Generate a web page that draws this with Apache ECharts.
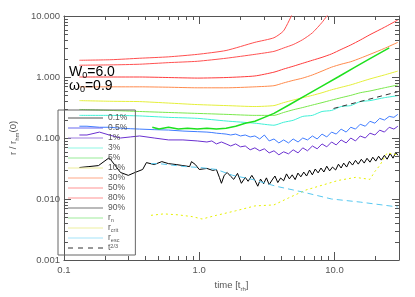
<!DOCTYPE html>
<html><head><meta charset="utf-8">
<script src="https://cdn.jsdelivr.net/npm/echarts@6/dist/echarts.min.js"></script>
<style>html,body{margin:0;padding:0;background:#fff}#c{width:415px;height:297px}</style>
</head><body><div id="c"></div>
<script>
// ---- data (times in t_rh, radii in r_hm(0)) ----
const tSmooth = [0.130,0.223,0.363,0.593,0.968,1.58,2.58,3.57,4.21,4.95,5.83,6.87,8.09,9.52,11.2,13.2,15.5,18.3,23.4,29.4];
const r90 = [1.88,1.92,2.03,2.14,2.35,2.72,3.7,4.4,5.73,11.6,null,null,null,null,null,null,null,null,null,null];
const r80 = [1.56,1.58,1.62,1.72,1.81,2.03,2.35,2.63,2.99,3.4,4.1,5.3,7.85,12.7,null,null,null,null,null,null];
const r50 = [1.0,1.0,1.0,0.98,0.96,0.98,1.04,1.2,1.35,1.5,1.68,1.88,2.1,2.39,2.83,3.35,4.03,4.94,6.53,8.6];
const r30 = [0.69,0.69,0.69,0.68,0.665,0.665,0.69,0.72,0.80,0.88,0.96,1.08,1.25,1.45,1.62,1.78,2.03,2.35,2.94,3.7];
const r10 = [0.41,0.40,0.395,0.374,0.353,0.34,0.328,0.34,0.38,0.418,0.458,0.50,0.552,0.617,0.678,0.743,0.83,0.93,1.08,1.25];
const r5  = [0.294,0.283,0.272,0.262,0.253,0.244,0.235,0.235,0.262,0.29,0.316,0.347,0.38,0.418,0.458,0.50,0.552,0.59,0.665,0.74];
const r3  = [0.235,0.235,0.23,0.218,0.21,0.19,0.175,0.162,0.181,0.195,0.226,0.235,0.272,0.283,0.328,0.34,0.395,0.41,0.458,0.494];

const tNoisy = [0.130,0.148,0.183,0.216,0.262,0.309,0.363,0.465,0.593,0.758,0.968,1.14,1.24,1.34,1.46,1.58,1.71,1.86,2.02,2.19,2.38,2.58,2.80,3.03,3.29,3.57,3.88,4.21,4.57,4.95,5.38,5.83,6.32,6.87,7.45,8.09,8.77,9.52,10.3,11.2,12.2,13.2,14.3,15.5,16.9,18.3,19.9,21.6,23.4,25.4,27.5,29.4];
const r1  = [0.156,0.156,0.150,0.150,0.145,0.142,0.140,0.137,0.135,0.130,0.127,0.125,0.123,0.120,0.118,0.116,0.112,0.116,0.108,0.112,0.104,0.108,0.0964,0.112,0.0895,0.0964,0.083,0.093,0.083,0.0964,0.086,0.100,0.093,0.108,0.0964,0.116,0.104,0.125,0.116,0.140,0.125,0.150,0.140,0.168,0.156,0.188,0.175,0.210,0.197,0.226,0.218,0.244];
const r05 = [0.112,0.112,0.125,0.112,0.100,0.104,0.108,0.100,0.093,0.093,0.0895,0.086,0.0895,0.080,0.086,0.080,0.074,0.080,0.0716,0.074,0.064,0.069,0.0617,0.0665,0.057,0.0617,0.053,0.0594,0.055,0.064,0.057,0.069,0.0617,0.074,0.0665,0.080,0.0716,0.086,0.077,0.093,0.083,0.100,0.0895,0.108,0.100,0.120,0.112,0.1346,0.125,0.150,0.140,0.156];

const tBlack = [0.130,0.153,0.180,0.216,0.262,0.299,0.335,0.382,0.407,0.465,0.529,0.593,0.676,0.758,0.849,0.877,0.937,1.00,1.14,1.26,1.34,1.41,1.46,1.53,1.61,1.71,1.80,1.92,2.05,2.19,2.30,2.45,
  2.58,2.71,2.84,2.99,3.14,3.29,3.46,3.63,3.81,4.00,4.21,4.42,4.64,4.87,5.12,5.37,5.64,5.93,6.22,6.54,6.86,7.21,7.57,7.95,8.35,8.77,9.21,9.67,10.2,10.7,11.2,11.7,12.3,12.9,13.6,14.3,15.0,15.8,16.6,17.4,18.3,19.2,20.2,21.2,22.2,23.4,24.5,25.8,27.1,28.4,29.4];
const r01 = [0.0328,0.034,0.0353,0.0475,0.0272,0.0244,0.0272,0.0305,0.0395,0.0367,0.041,0.038,0.0367,0.0353,0.034,0.041,0.0367,0.0305,0.0317,0.0294,0.0305,0.0226,0.0181,0.0244,0.0272,0.0235,0.021,0.0263,0.0181,0.0226,0.0195,0.0244,
  0.0202,0.0162,0.0212,0.0178,0.0222,0.0172,0.0205,0.0238,0.0186,0.0221,0.0199,0.0258,0.0214,0.0249,0.0208,0.0266,0.0231,0.0276,0.0238,0.0298,0.0249,0.031,0.0268,0.0322,0.0277,0.0345,0.0289,0.0334,0.0299,0.0372,0.0322,0.0388,0.0334,0.0415,0.036,0.043,0.0373,0.0448,0.0388,0.0465,0.0402,0.0484,0.0418,0.0503,0.0434,0.052,0.0449,0.0558,0.0467,0.0582,0.0522];

const tRn = [0.45,0.504,0.593,0.70,0.82,0.968,1.14,1.34,1.58,1.86,2.19,2.58,3.03,3.57,4.57,6.13,8.09,10.7,14.3,18.3,25.4];
const rN  = [0.15,0.14,0.15,0.14,0.145,0.14,0.145,0.14,0.145,0.156,0.175,0.188,0.218,0.253,0.344,0.499,0.711,1.01,1.47,2.0,3.01];

const tCrit = [0.44,0.547,0.70,0.892,1.05,1.34,1.86,2.58,3.57,4.57,6.13,10.7,14.3,18.3,19.9,21.6,24.5,29.4];
const rCrit = [0.0054,0.0057,0.0055,0.00513,0.0047,0.0054,0.0064,0.0077,0.008,0.0104,0.014,0.0202,0.0226,0.021,0.0283,0.0353,0.057,0.053];

const tEsc = [0.44,0.504,0.783,1.02,1.34,1.77,2.46,3.69,5.83,9.52,15.5,29.4];
const rEsc = [0.038,0.038,0.034,0.0328,0.0305,0.0244,0.021,0.0162,0.013,0.01,0.0089,0.0074];

const tPow = [9.84, 29.4];
const rPow = [0.305, 0.573];

const xMinor = [0.2,0.3,0.4,0.5,0.6,0.7,0.8,0.9,2,3,4,5,6,7,8,9,20];
const yMinor = [0.002,0.003,0.004,0.005,0.006,0.007,0.008,0.009,0.02,0.03,0.04,0.05,0.06,0.07,0.08,0.09,0.2,0.3,0.4,0.5,0.6,0.7,0.8,0.9,2,3,4,5,6,7,8,9];

const legendNames = ['0.1%','0.5%','1%','3%','5%','10%','30%','50%','80%','90%','r_n','r_crit','r_esc','t23'];
const legendColors = ['#555555','#6b6bf0','#a080e0','#90f8e4','#98ec98','#eeee9c','#ffa888','#ff9494','#ff9494','#777777','#a0ec9c','#eef0a0','#a4e4fa','#333333'];

// ---- chart ----
const pair = (t, r) => t.map((x, i) => [x, r[i]]);
const axisCol = '#555';
const FONT = 'Liberation Sans, Arial, sans-serif';
const DASH_ICON = 'path://M0,0h5v1h-5z M10,0h5v1h-5z M20,0h5v1h-5z M30,0h5v1h-5z';

function lineSeries(name, t, r, color, extra) {
  return Object.assign({
    type: 'line', name, data: pair(t, r), showSymbol: false, symbol: 'none',
    lineStyle: { color, width: 1 }, itemStyle: { color }, clip: true, z: 3,
    connectNulls: false
  }, extra || {});
}

function minorX(params, api) {
  const cs = params.coordSys;
  const x = Math.round(api.coord([api.value(0), 1])[0]) + 0.5;
  const yb = cs.y + cs.height, yt = cs.y;
  return { type: 'group', children: [
    { type: 'line', shape: { x1: x, y1: yb, x2: x, y2: yb - 4 }, style: { stroke: axisCol, lineWidth: 1 } },
    { type: 'line', shape: { x1: x, y1: yt, x2: x, y2: yt + 4 }, style: { stroke: axisCol, lineWidth: 1 } }
  ]};
}
function minorY(params, api) {
  const cs = params.coordSys;
  const y = Math.round(api.coord([1, api.value(1)])[1]) + 0.5;
  const xl = cs.x, xr = cs.x + cs.width;
  return { type: 'group', children: [
    { type: 'line', shape: { x1: xl, y1: y, x2: xl + 4, y2: y }, style: { stroke: axisCol, lineWidth: 1 } },
    { type: 'line', shape: { x1: xr, y1: y, x2: xr - 4, y2: y }, style: { stroke: axisCol, lineWidth: 1 } }
  ]};
}

const xBase = { type: 'log', logBase: 10, min: 0.1, max: 30, splitLine: { show: false },
  axisLine: { show: true, lineStyle: { color: axisCol, width: 1 } },
  axisTick: { show: true, inside: true, length: 8, lineStyle: { color: axisCol } } };
const yBase = { type: 'log', logBase: 10, min: 0.001, max: 10, splitLine: { show: false },
  axisLine: { show: true, lineStyle: { color: axisCol, width: 1 } },
  axisTick: { show: true, inside: true, length: 7, lineStyle: { color: axisCol } } };

const legendLabel = {
  '0.1%': '0.1%', '0.5%': '0.5%', '1%': '1%', '3%': '3%', '5%': '5%', '10%': '10%',
  '30%': '30%', '50%': '50%', '80%': '80%', '90%': '90%',
  'r_n': 'r{s|n}', 'r_crit': 'r{s|crit}', 'r_esc': 'r{s|esc}', 't23': 't{p|2/3}'
};

const option = {
  animation: false,
  textStyle: { fontFamily: FONT },
  grid: { left: 52, right: 16, top: 16, bottom: 33 },
  xAxis: [
    Object.assign({}, xBase, { position: 'bottom',
      axisLabel: { formatter: v => Number(v).toFixed(1), color: '#555', fontSize: 9.5, margin: 5, fontFamily: FONT, showMaxLabel: false },
      name: '{a|time [t}{s|rh}{a|]}', nameLocation: 'middle', nameGap: 18,
      nameTextStyle: { rich: {
        a: { fontSize: 9.5, color: '#555', fontFamily: FONT, lineHeight: 14, verticalAlign: 'middle' },
        s: { fontSize: 6, color: '#555', fontFamily: FONT, lineHeight: 14, verticalAlign: 'bottom' } } } }),
    Object.assign({}, xBase, { position: 'top', axisLabel: { show: false } })
  ],
  yAxis: [
    Object.assign({}, yBase, { position: 'left',
      axisLabel: { formatter: v => Number(v).toFixed(3), color: '#555', fontSize: 9.5, margin: 4, fontFamily: FONT },
      name: '{a|r / r}{s|hm}{a|(0)}', nameLocation: 'middle', nameGap: 38,
      nameTextStyle: { rich: {
        a: { fontSize: 9.5, color: '#555', fontFamily: FONT, lineHeight: 14, verticalAlign: 'middle' },
        s: { fontSize: 6, color: '#555', fontFamily: FONT, lineHeight: 14, verticalAlign: 'bottom' } } } }),
    Object.assign({}, yBase, { position: 'right', axisLabel: { show: false } })
  ],
  legend: {
    orient: 'vertical', left: 58, top: 110, padding: [3, 8, 2, 10], itemGap: 0,
    itemWidth: 35, itemHeight: 1, borderColor: '#666', borderWidth: 1, selectedMode: false,
    data: legendNames.map((n, i) => ({ name: n, icon: n === 't23' ? DASH_ICON : 'rect',
      itemStyle: { color: legendColors[i], borderWidth: 0 } })),
    formatter: n => legendLabel[n],
    textStyle: { fontSize: 8.5, color: '#555', lineHeight: 10, fontFamily: FONT,
      rich: {
        s: { fontSize: 5.5, color: '#555', lineHeight: 10, verticalAlign: 'bottom', fontFamily: FONT },
        p: { fontSize: 5.5, color: '#555', lineHeight: 10, verticalAlign: 'top', fontFamily: FONT } } }
  },
  graphic: [
    { type: 'text', left: 69, top: 65, z: 10, style: { text: '{a|W}{s|0}{a|=6.0}', rich: {
      a: { fontSize: 14, fill: '#000', fontFamily: FONT, lineHeight: 17, verticalAlign: 'middle' },
      s: { fontSize: 9, fill: '#000', fontFamily: FONT, lineHeight: 17, verticalAlign: 'bottom' } } } },
    { type: 'text', left: 69, top: 79, z: 10, style: { text: '{a|ω}{s|0}{a|=0.9}', rich: {
      a: { fontSize: 14, fill: '#000', fontFamily: FONT, lineHeight: 17, verticalAlign: 'middle' },
      s: { fontSize: 9, fill: '#000', fontFamily: FONT, lineHeight: 17, verticalAlign: 'bottom' } } } }
  ],
  series: [
    lineSeries('90%', tSmooth, r90, '#ff4f4f', { smooth: 0.2 }),
    lineSeries('80%', tSmooth, r80, '#ff5252', { smooth: 0.2 }),
    lineSeries('50%', tSmooth, r50, '#ff3c3c', { smooth: 0.2 }),
    lineSeries('30%', tSmooth, r30, '#ff8a4c', { smooth: 0.2 }),
    lineSeries('10%', tSmooth, r10, '#e4ef3a', { smooth: 0.2 }),
    lineSeries('5%', tSmooth, r5, '#7ae84c', { smooth: 0.2 }),
    lineSeries('3%', tSmooth, r3, '#3ff0d6', { smooth: 0.2 }),
    lineSeries('1%', tNoisy, r1, '#3f7cff'),
    lineSeries('0.5%', tNoisy, r05, '#6a30d0'),
    lineSeries('0.1%', tBlack, r01, '#000000'),
    lineSeries('r_n', tRn, rN, '#1ee01e', { lineStyle: { color: '#1ee01e', width: 1.5 } }),
    lineSeries('r_crit', tCrit, rCrit, '#e6f000', { lineStyle: { color: '#e6f000', width: 1, type: [2, 3] } }),
    lineSeries('r_esc', tEsc, rEsc, '#58c8f0', { lineStyle: { color: '#58c8f0', width: 1, type: [6, 4] } }),
    lineSeries('t23', tPow, rPow, '#333333', { lineStyle: { color: '#333333', width: 1, type: [5, 4] } }),
    { type: 'custom', name: 'xminor', renderItem: minorX, data: xMinor.map(v => [v, 1]), silent: true, z: 5, clip: false },
    { type: 'custom', name: 'yminor', renderItem: minorY, data: yMinor.map(v => [1, v]), silent: true, z: 5, clip: false }
  ]
};

const chart = echarts.init(document.getElementById('c'), null, { renderer: 'canvas' });
chart.setOption(option);
</script>
</body></html>
